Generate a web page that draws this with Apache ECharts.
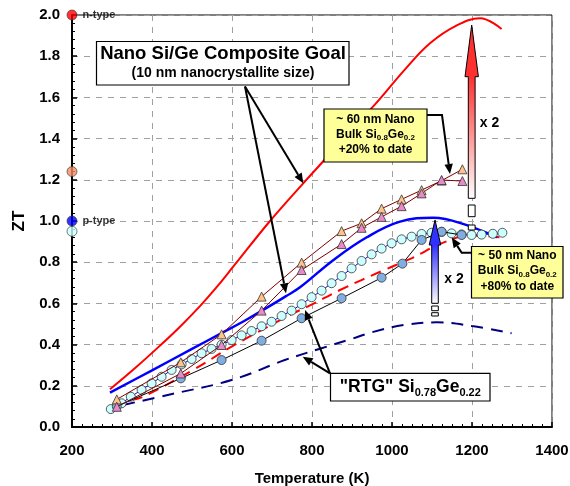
<!DOCTYPE html>
<html>
<head>
<meta charset="utf-8">
<script src="https://cdn.jsdelivr.net/npm/echarts@6/dist/echarts.min.js"></script>
<style>
html,body{margin:0;padding:0;background:#fff;overflow:hidden;}
#main{width:570px;height:486px;}
</style>
</head>
<body>
<div id="main"></div>
<script>
// ---------- data ----------
const xTicks = [200, 400, 600, 800, 1000, 1200, 1400];
const yTicks = [0.0, 0.2, 0.4, 0.6, 0.8, 1.0, 1.2, 1.4, 1.6, 1.8, 2.0];

// n-type nano goal (red solid)
const goalN_T  = [295, 360, 420, 470, 520, 560, 603, 695, 778, 828, 890, 957, 1032, 1095, 1162, 1220, 1274];
const goalN_ZT = [0.183, 0.29, 0.395, 0.487, 0.587, 0.675, 0.778, 1.0, 1.183, 1.29, 1.43, 1.565, 1.735, 1.863, 1.95, 1.984, 1.932];

// p-type nano goal (blue solid)
const goalP_T  = [295, 399, 500, 574, 637, 735, 770, 853, 937, 1020, 1103, 1187, 1262];
const goalP_ZT = [0.167, 0.274, 0.379, 0.456, 0.522, 0.635, 0.678, 0.81, 0.921, 0.997, 1.016, 0.98, 0.921];

// red dashed
const dashN_T  = [349, 378, 503, 599, 745, 795, 870, 978, 1050, 1128, 1200, 1272];
const dashN_ZT = [0.131, 0.147, 0.277, 0.39, 0.544, 0.59, 0.665, 0.76, 0.82, 0.895, 0.93, 0.92];

// RTG Si0.78Ge0.22 (navy dashed)
const rtg_T  = [328, 450, 599, 732, 820, 903, 950, 1030, 1112, 1200, 1299];
const rtg_ZT = [0.107, 0.16, 0.228, 0.325, 0.38, 0.43, 0.46, 0.495, 0.508, 0.49, 0.455];

// ~50 nm nano bulk (light cyan circles)
const cyan_T  = [297, 324, 347, 374, 399, 424, 449, 474, 499, 524, 549, 574, 599, 624, 649, 674, 699, 724, 749, 774, 799, 824, 849, 874, 899, 924, 949, 974, 999, 1024, 1049, 1074, 1099, 1124, 1149, 1174, 1199, 1224, 1252, 1276];
const cyan_ZT = [0.087, 0.115, 0.147, 0.18, 0.212, 0.244, 0.277, 0.304, 0.33, 0.358, 0.379, 0.40, 0.422, 0.445, 0.466, 0.489, 0.511, 0.539, 0.565, 0.596, 0.63, 0.662, 0.698, 0.733, 0.77, 0.806, 0.838, 0.866, 0.892, 0.911, 0.924, 0.937, 0.943, 0.947, 0.94, 0.935, 0.932, 0.934, 0.938, 0.943];

// p-type bulk (blue circles)
const blue_T  = [312, 472, 574, 674, 774, 874, 974, 1026, 1074, 1124, 1174];
const blue_ZT = [0.10, 0.236, 0.325, 0.419, 0.528, 0.625, 0.725, 0.793, 0.908, 0.948, 0.932];

// ~60 nm nano bulk (orange / pink triangles)
const tri_T     = [312, 472, 574, 674, 774, 874, 924, 974, 1024, 1074, 1124, 1176];
const orange_ZT = [0.134, 0.314, 0.45, 0.633, 0.798, 0.951, 0.989, 1.06, 1.105, 1.15, 1.196, 1.251];
const pink_ZT   = [0.098, 0.26, 0.398, 0.565, 0.762, 0.888, 0.967, 1.02, 1.072, 1.134, 1.199, 1.194];

// reference markers on the y-axis
const refMarks  = [2.0, 1.24, 1.0, 0.95];
const refColors = ['#FF0000', '#F48A62', '#0000FF', '#CCFFFF'];
const refLabels = ['n-type', '', 'p-type', ''];

// ---------- helpers ----------
const zip = (xs, ys) => xs.map((x, i) => [x, ys[i]]);
const FONT = '"Liberation Sans", Arial, sans-serif';

function arrowEls(pts, lw) {
  const n = pts.length;
  const [x1, y1] = pts[n - 2], [x2, y2] = pts[n - 1];
  const ang = Math.atan2(y2 - y1, x2 - x1);
  const L = 10, W = 4.2;
  const bx = x2 - L * Math.cos(ang), by = y2 - L * Math.sin(ang);
  const px = -Math.sin(ang) * W, py = Math.cos(ang) * W;
  return [
    {type: 'polyline', z: 100, shape: {points: pts.slice(0, n - 1).concat([[bx, by]])},
     style: {stroke: '#000', lineWidth: lw || 2, fill: null}},
    {type: 'polygon', z: 100, shape: {points: [[x2, y2], [bx + px, by + py], [bx - px, by - py]]},
     style: {fill: '#000'}}
  ];
}
function txt(x, y, text, size, extra) {
  return Object.assign({type: 'text', z: 110, x: x, y: y,
    style: {text: text, fill: '#000', fontSize: size, fontWeight: 'bold', fontFamily: FONT,
      align: 'center', verticalAlign: 'middle', textAlign: 'center', textVerticalAlign: 'middle'}}, extra || {});
}
function richTxt(x, y, text, size, subSize, lh) {
  return {type: 'text', z: 110, x: x, y: y,
    style: {text: text, fill: '#000', fontFamily: FONT, fontWeight: 'bold', fontSize: size,
      align: 'center', verticalAlign: 'middle', textAlign: 'center', textVerticalAlign: 'middle',
      rich: {
        n: {fontSize: size, fontWeight: 'bold', fontFamily: FONT, lineHeight: lh, verticalAlign: 'middle', fill: '#000'},
        s: {fontSize: subSize, fontWeight: 'bold', fontFamily: FONT, lineHeight: subSize + 1, verticalAlign: 'bottom', fill: '#000'}
      }}};
}
function box(x, y, w, h, fill) {
  return {type: 'rect', z: 105, shape: {x: x, y: y, width: w, height: h},
    style: {fill: fill, stroke: '#000', lineWidth: 1.2}};
}
function bigArrow(cx, tip, headBase, headHalf, shaftHalf, bottom, top, pieces) {
  const els = [{
    type: 'polygon', z: 90,
    shape: {points: [[cx, tip], [cx + headHalf, headBase], [cx + shaftHalf, headBase], [cx + shaftHalf, bottom],
      [cx - shaftHalf, bottom], [cx - shaftHalf, headBase], [cx - headHalf, headBase]]},
    style: {stroke: '#000', lineWidth: 1,
      fill: {type: 'linear', x: 0, y: 0, x2: 0, y2: 1, global: false,
        colorStops: [{offset: 0, color: top}, {offset: 0.3, color: top}, {offset: 1, color: '#FFFFFF'}]}}
  }];
  pieces.forEach(p => els.push({type: 'rect', z: 90,
    shape: {x: cx - shaftHalf, y: p[0], width: shaftHalf * 2, height: p[1]},
    style: {fill: '#fff', stroke: '#000', lineWidth: 1}}));
  return els;
}

const chart = echarts.init(document.getElementById('main'), null, {renderer: 'canvas'});

const axisCommon = {
  type: 'value',
  axisLine: {show: true, onZero: false, lineStyle: {color: '#000', width: 2}},
  axisTick: {show: true, inside: true, length: 5, lineStyle: {color: '#000', width: 1.5}},
  splitLine: {show: true, lineStyle: {color: '#A0A0A0', width: 1, type: [6, 6]}},
  axisLabel: {color: '#000', fontSize: 15, fontWeight: 'bold', fontFamily: FONT},
  nameTextStyle: {color: '#000', fontSize: 15, fontWeight: 'bold', fontFamily: FONT}
};

const lineSeries = (name, xs, ys, color, width, dash, z) => ({
  name: name, type: 'line', data: zip(xs, ys), smooth: 0.4, showSymbol: false, symbol: 'none',
  lineStyle: {color: color, width: width, type: dash || 'solid'}, z: z || 2, silent: true, animation: false
});
const markerSeries = (name, xs, ys, symbol, fill, lineColor, z) => ({
  name: name, type: 'line', data: zip(xs, ys), smooth: false, symbol: symbol, symbolSize: 9, showSymbol: true,
  itemStyle: {color: fill, borderColor: '#333', borderWidth: 0.8},
  lineStyle: {color: lineColor, width: 1}, z: z, animation: false
});

const graphics = [].concat(
  // Nano goal box
  [box(96.5, 41.5, 252.5, 43.5, '#fff'),
   txt(223, 54, 'Nano Si/Ge Composite Goal', 18.5),
   txt(223, 73.5, '(10 nm nanocrystallite size)', 14)],
  arrowEls([[245, 86.5], [303.3, 183.3]]),
  arrowEls([[245, 86.5], [286, 293.3]]),
  // 60 nm box
  [box(324, 109, 103, 53, '#FFFF99'),
   txt(375.5, 119.5, '~ 60 nm Nano', 12),
   richTxt(375.5, 134.5, '{n|Bulk Si}{s|0.8}{n|Ge}{s|0.2}', 12, 8, 15),
   txt(375.5, 150, '+20% to date', 12)],
  arrowEls([[427, 115], [442, 115], [450, 174]]),
  // 50 nm box
  [box(471.5, 246.5, 91.5, 51.5, '#FFFF99'),
   txt(517.3, 256, '~ 50 nm Nano', 12),
   richTxt(517.3, 271, '{n|Bulk Si}{s|0.8}{n|Ge}{s|0.2}', 12, 8, 15),
   txt(517.3, 287, '+80% to date', 12)],
  arrowEls([[471.5, 252.7], [461.7, 252.7], [451.7, 237.5]]),
  // RTG box
  [box(330.5, 373.3, 159.5, 27.7, '#fff'),
   richTxt(410.3, 387, '{n|"RTG" Si}{s|0.78}{n|Ge}{s|0.22}', 17.5, 11, 22)],
  arrowEls([[330, 373.3], [302.7, 356.7]]),
  arrowEls([[330, 373.3], [305, 310]]),
  // x2 arrows
  bigArrow(471.7, 25, 76.7, 6.7, 3.4, 198.3, '#FF3030', [[205, 11.7], [225, 5]]),
  bigArrow(435, 220, 245, 5.8, 3.3, 303.3, '#3030FF', [[306, 4.7], [312.7, 3.3]]),
  [txt(489.5, 123.5, 'x 2', 14), txt(454, 279, 'x 2', 14)]
);

chart.setOption({
  animation: false,
  backgroundColor: '#fff',
  grid: {left: 72, right: 18, top: 15, bottom: 59, show: true, borderColor: '#000', borderWidth: 1,
    containLabel: false, outerBoundsMode: 'none'},
  xAxis: Object.assign({}, axisCommon, {
    min: xTicks[0], max: xTicks[xTicks.length - 1], interval: xTicks[1] - xTicks[0],
    minorTick: {show: true, splitNumber: 8, length: 3, lineStyle: {color: '#000', width: 1}},
    axisLabel: Object.assign({}, axisCommon.axisLabel, {margin: 16, formatter: v => String(v)}),
    name: 'Temperature (K)', nameLocation: 'middle', nameGap: 44
  }),
  yAxis: Object.assign({}, axisCommon, {
    min: yTicks[0], max: yTicks[yTicks.length - 1], interval: 0.2,
    minorTick: {show: true, splitNumber: 5, length: 3, lineStyle: {color: '#000', width: 1}},
    axisLabel: Object.assign({}, axisCommon.axisLabel, {margin: 12, formatter: v => v.toFixed(1)}),
    name: 'ZT', nameLocation: 'middle', nameGap: 40, nameRotate: 90,
    nameTextStyle: Object.assign({}, axisCommon.nameTextStyle, {fontSize: 17})
  }),
  series: [
    lineSeries('RTG', rtg_T, rtg_ZT, '#000080', 2, [12, 8], 2),
    lineSeries('n dashed', dashN_T, dashN_ZT, '#FF0000', 2, [11, 7], 2),
    lineSeries('p goal', goalP_T, goalP_ZT, '#0000FF', 2.5, 'solid', 3),
    lineSeries('n goal', goalN_T, goalN_ZT, '#FF0000', 2, 'solid', 3),
    markerSeries('50 nm', cyan_T, cyan_ZT, 'circle', '#CCFFFF', '#0000FF', 4),
    markerSeries('p bulk', blue_T, blue_ZT, 'circle', '#80AEE0', '#000000', 5),
    markerSeries('60 nm a', tri_T, orange_ZT, 'triangle', '#FFC38A', '#800000', 6),
    markerSeries('60 nm b', tri_T, pink_ZT, 'triangle', '#E88AC8', '#800000', 6),
    {
      name: 'ref', type: 'scatter', clip: false, z: 8, symbolSize: 10,
      data: refMarks.map((v, i) => ({value: [xTicks[0], v],
        itemStyle: {color: refColors[i], borderColor: '#333', borderWidth: 0.8},
        label: {show: !!refLabels[i], formatter: refLabels[i], position: 'right', distance: 5,
          color: '#000', fontSize: 11, fontWeight: 'bold', fontFamily: FONT}}))
    }
  ],
  graphic: graphics
});
</script>
</body>
</html>
